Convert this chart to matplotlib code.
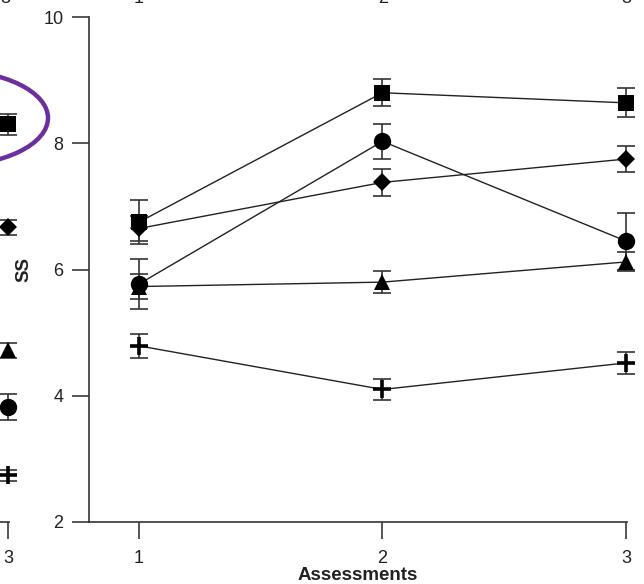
import matplotlib
matplotlib.use("Agg")
import matplotlib.pyplot as plt
from matplotlib.patches import Ellipse

plt.rcParams['font.family'] = ['Liberation Sans', 'DejaVu Sans']

# assessments on the x axis
assess = [1, 2, 3]

# main panel: mean and error per assessment
sq_y,  sq_e  = [6.75, 8.80, 8.64], [0.35, 0.21, 0.23]
ci_y,  ci_e  = [5.77, 8.03, 6.45], [0.40, 0.28, 0.45]
di_y,  di_e  = [6.65, 7.38, 7.75], [0.20, 0.21, 0.20]
tr_y,  tr_e  = [5.73, 5.80, 6.12], [0.20, 0.18, 0.15]
pl_y,  pl_e  = [4.79, 4.10, 4.52], [0.19, 0.17, 0.17]

# neighbouring panel on the left, only its 3rd assessment is in view
left_y = [8.30, 6.67, 4.72, 3.82, 2.74]
left_e = [0.17, 0.12, 0.12, 0.20, 0.09]

# panel above: only the bottom of its tick labels shows
top_labels = ["3", "1", "2", "3"]

markers = ['s', 'o', 'D', '^', '+']
msizes  = [12, 12.5, 9, 11, 13]
yticks  = [2, 4, 6, 8, 10]

W, H = 644, 584
fig = plt.figure(figsize=(W/100, H/100), dpi=100)

def px_ax(left_px):
    # axes rect from pixel edges, same size for both panels
    return [left_px/W, (H-522)/H, (627-89)/W, (522-17)/H]

def style(ax):
    ax.set_xlim(0.795, 3.004)
    ax.set_ylim(2, 10)
    for s in ['top', 'right']:
        ax.spines[s].set_visible(False)
    for s in ['left', 'bottom']:
        ax.spines[s].set_linewidth(1.2)
        ax.spines[s].set_color('#333333')
    ax.set_xticks(assess)
    ax.set_yticks(yticks)
    ax.tick_params(axis='both', direction='out', length=12.5, width=1.4,
                   color='#555555', labelsize=13, labelcolor='#222222')
    ax.tick_params(axis='x', pad=8)
    ax.tick_params(axis='y', pad=6)
    ax.patch.set_alpha(0)

def draw(ax, xs, ys, es, mk, ms, line=True):
    if line:
        ax.plot(xs, ys, '-', color='#222222', lw=1.0, zorder=2, clip_on=False)
    ax.errorbar(xs, ys, yerr=es, fmt='none', ecolor='#333333', elinewidth=1.2,
                capsize=6.5, capthick=1.2, zorder=3, clip_on=False)
    kw = dict(mew=2.6) if mk == '+' else dict(mew=0)
    ax.plot(xs, ys, mk, color='black', ms=ms, zorder=4, clip_on=False,
            ls='none', **kw)

ax = fig.add_axes(px_ax(89))
style(ax)
series = [(sq_y, sq_e), (ci_y, ci_e), (di_y, di_e), (tr_y, tr_e), (pl_y, pl_e)]
for (ys, es), mk, ms in zip(series, markers, msizes):
    draw(ax, assess, ys, es, mk, ms)
ax.set_xlabel("Assessments", fontsize=13.5, fontweight='bold',
              color='#222222', labelpad=0)
ax.set_ylabel("SS", fontsize=13.5, fontweight='bold', color='#222222',
              labelpad=8)

# left neighbour panel (mostly off the figure), only its last tick is in view
axl = fig.add_axes(px_ax(89-618))
style(axl)
axl.spines['left'].set_visible(False)
axl.set_yticks([])
axl.set_xticks(assess[-1:])
for y, e, mk, ms in zip(left_y, left_e, ['s', 'D', '^', 'o', '+'],
                        [12, 9, 11, 12.5, 13]):
    draw(axl, [3], [y], [e], mk, ms, line=False)

# overlay in pixel coordinates for the annotation and clipped labels
ov = fig.add_axes([0, 0, 1, 1])
ov.set_xlim(0, W)
ov.set_ylim(H, 0)
ov.axis('off')
ov.patch.set_alpha(0)
ov.add_patch(Ellipse((-52, 118), 200, 96, fill=False, ec='#6b2fa0', lw=3.2))
for lab, x in zip(top_labels, [5, 139, 383, 626]):
    ov.text(x, 7, lab, ha='center', va='bottom', fontsize=13, color='#222222')

fig.savefig("out.png", dpi=100)
